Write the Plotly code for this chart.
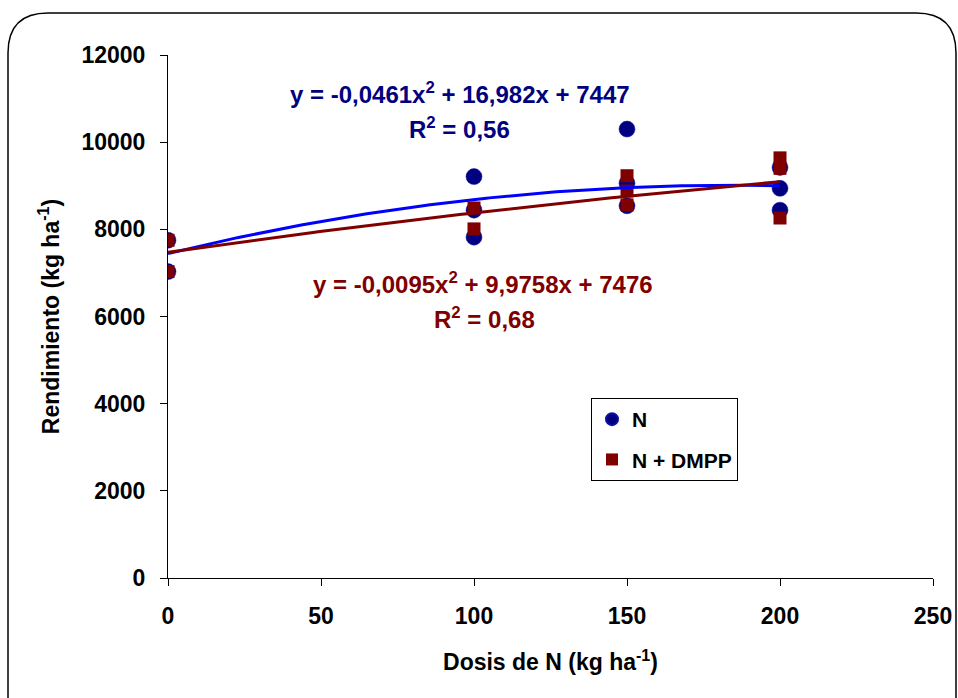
import numpy as np
import plotly.graph_objects as go

# ---- data ----
n_x = [0, 0, 100, 100, 100, 150, 150, 150, 200, 200, 200]
n_y = [7750, 7030, 9210, 8440, 7820, 10300, 9060, 8540, 9420, 8940, 8440]
dmpp_x = [0, 0, 100, 100, 150, 150, 150, 200, 200, 200]
dmpp_y = [7750, 7030, 8490, 8010, 9230, 8880, 8560, 9640, 9400, 8260]

# trendline coefficients shown on the chart (a*x^2 + b*x + c)
n_coef = [-0.0461, 16.982, 7447]
dmpp_coef = [-0.0095, 9.9758, 7476]
n_eq = "y = -0,0461x<sup>2</sup> + 16,982x + 7447"
n_r2 = "R<sup>2</sup> = 0,56"
dmpp_eq = "y = -0,0095x<sup>2</sup> + 9,9758x + 7476"
dmpp_r2 = "R<sup>2</sup> = 0,68"

x_ticks = [0, 50, 100, 150, 200, 250]
y_ticks = [0, 2000, 4000, 6000, 8000, 10000, 12000]
y_tick_labels = ["0", "2000", "4000", "6000", "8000", "10000", "12000"]
x_tick_labels = ["0", "50", "100", "150", "200", "250"]

BLUE_DARK = "#000080"
RED_DARK = "#800000"
FONT = "Arial, Liberation Sans, sans-serif"

W, H = 958, 698
ML, MR, MT, MB = 168, 25, 55, 120
PW, PH = W - ML - MR, H - MT - MB

fig = go.Figure()

fig.add_trace(go.Scatter(x=n_x, y=n_y, mode="markers", name="N",
                         marker=dict(symbol="circle", size=16, color=BLUE_DARK,
                                     line=dict(color="#1010a0", width=0.5)),
                         legendgroup="a"))
fig.add_trace(go.Scatter(x=dmpp_x, y=dmpp_y, mode="markers", name="N + DMPP",
                         marker=dict(symbol="square", size=13, color=RED_DARK,
                                     line=dict(width=0)),
                         legendgroup="b"))

xc = np.linspace(0, 200, 201)
fig.add_trace(go.Scatter(x=xc, y=np.polyval(n_coef, xc), mode="lines",
                         line=dict(color="#0000FF", width=3), showlegend=False,
                         hoverinfo="skip"))
fig.add_trace(go.Scatter(x=xc, y=np.polyval(dmpp_coef, xc), mode="lines",
                         line=dict(color=RED_DARK, width=3), showlegend=False,
                         hoverinfo="skip"))

ann_font = dict(family=FONT, size=24, weight="bold")
fig.add_annotation(x=95.4, y=11128, text=n_eq, showarrow=False,
                   font=dict(ann_font, color=BLUE_DARK))
fig.add_annotation(x=95.4, y=10325, text=n_r2, showarrow=False,
                   font=dict(ann_font, color=BLUE_DARK))
fig.add_annotation(x=102.9, y=6769, text=dmpp_eq, showarrow=False,
                   font=dict(ann_font, color=RED_DARK))
fig.add_annotation(x=103.3, y=5977, text=dmpp_r2, showarrow=False,
                   font=dict(ann_font, color=RED_DARK))

# rounded outer border (pixel -> paper conversion)
def u(px):
    return (px - ML) / PW

def v(py):
    return (H - MB - py) / PH

L, T, R, B, rad = 8, 13, 956, 710, 40
path = (f"M {u(L)} {v(T + rad)} Q {u(L)} {v(T)} {u(L + rad)} {v(T)} "
        f"L {u(R - rad)} {v(T)} Q {u(R)} {v(T)} {u(R)} {v(T + rad)} "
        f"L {u(R)} {v(B)} L {u(L)} {v(B)} Z")
fig.add_shape(type="path", path=path, xref="paper", yref="paper",
              line=dict(color="black", width=1.5), fillcolor="rgba(0,0,0,0)",
              layer="below")

tick_font = dict(family=FONT, size=23, color="black", weight="bold")
title_font = dict(family=FONT, size=23, color="black", weight="bold")
fig.update_xaxes(range=[0, 250], tickvals=x_ticks, ticktext=x_tick_labels,
                 ticks="outside", ticklen=7, automargin=False,
                 tickcolor="black", showline=True, linecolor="black", linewidth=1,
                 showgrid=False, zeroline=False, tickfont=tick_font,
                 ticklabelstandoff=10,
                 title=dict(text="Dosis de N (kg ha<sup>-1</sup>)", standoff=26,
                            font=title_font))
fig.update_yaxes(range=[0, 12000], tickvals=y_ticks, ticktext=y_tick_labels,
                 ticks="outside", ticklen=7, automargin=False,
                 tickcolor="black", showline=True, linecolor="black", linewidth=1,
                 showgrid=False, zeroline=False, tickfont=tick_font,
                 ticklabelstandoff=10,
                 title=dict(text="Rendimiento (kg ha<sup>-1</sup>)", standoff=15,
                            font=title_font))

fig.update_layout(
    width=W, height=H, autosize=False,
    margin=dict(l=ML, r=MR, t=MT, b=MB),
    paper_bgcolor="white", plot_bgcolor="white",
    font=dict(family=FONT, color="black"),
    legend=dict(x=u(591), y=v(398), xanchor="left", yanchor="top",
                bordercolor="black", borderwidth=1, bgcolor="white",
                font=dict(family=FONT, size=21, color="black", weight="bold"),
                itemsizing="constant", tracegroupgap=10),
    showlegend=True,
)

fig.write_html("out.html")
